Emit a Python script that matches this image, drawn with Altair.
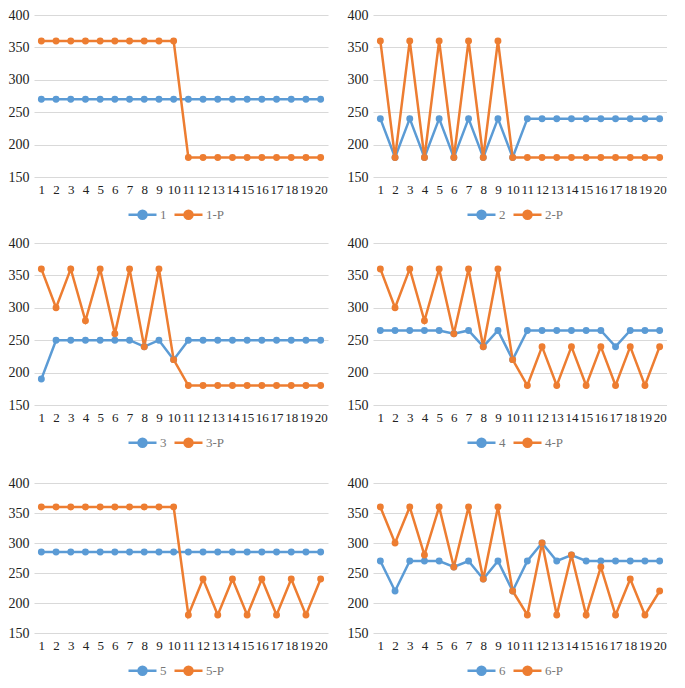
import altair as alt
import pandas as pd

x_vals = list(range(1, 21))

s1 = [270] * 20
s1p = [360] * 10 + [180] * 10

s2 = [240, 180, 240, 180, 240, 180, 240, 180, 240, 180] + [240] * 10
s2p = [360, 180, 360, 180, 360, 180, 360, 180, 360, 180] + [180] * 10

s3 = [190, 250, 250, 250, 250, 250, 250, 240, 250, 220] + [250] * 10
s3p = [360, 300, 360, 280, 360, 260, 360, 240, 360, 220] + [180] * 10

s4 = [265, 265, 265, 265, 265, 260, 265, 240, 265, 220,
      265, 265, 265, 265, 265, 265, 240, 265, 265, 265]
s4p = [360, 300, 360, 280, 360, 260, 360, 240, 360, 220,
       180, 240, 180, 240, 180, 240, 180, 240, 180, 240]

s5 = [285] * 20
s5p = [360] * 10 + [180, 240, 180, 240, 180, 240, 180, 240, 180, 240]

s6 = [270, 220, 270, 270, 270, 260, 270, 240, 270, 220,
      270, 300, 270, 280, 270, 270, 270, 270, 270, 270]
s6p = [360, 300, 360, 280, 360, 260, 360, 240, 360, 220,
       180, 300, 180, 280, 180, 260, 180, 240, 180, 220]

panels = [("1", s1, s1p), ("2", s2, s2p), ("3", s3, s3p),
          ("4", s4, s4p), ("5", s5, s5p), ("6", s6, s6p)]

BLUE = "#5B9BD5"
ORANGE = "#ED7D31"
FONT = "Liberation Serif"
SYM = "M-2,0H2M-0.57,0a0.57,0.57 0 1,0 1.14,0a0.57,0.57 0 1,0 -1.14,0"


def panel(name, a, b, w, h):
    df = pd.DataFrame({
        "x": x_vals + x_vals,
        "v": a + b,
        "s": [name] * 20 + [name + "-P"] * 20,
    })
    return alt.Chart(df).mark_line(
        point=alt.OverlayMarkDef(filled=True, size=48), strokeWidth=2.5
    ).encode(
        x=alt.X("x:O", scale=alt.Scale(type="point", padding=0.5),
                axis=alt.Axis(title=None, labelAngle=0, ticks=False, domain=False,
                              labelFont=FONT, labelFontSize=13, labelColor="#222",
                              labelPadding=6, grid=False)),
        y=alt.Y("v:Q", scale=alt.Scale(domain=[150, 400], nice=False, zero=False),
                axis=alt.Axis(title=None, values=[150, 200, 250, 300, 350, 400],
                              ticks=False, domain=False, labelFont=FONT,
                              labelFontSize=14, labelColor="#222", labelPadding=5,
                              gridColor="#d9d9d9", gridWidth=1)),
        color=alt.Color("s:N",
                        scale=alt.Scale(domain=[name, name + "-P"], range=[BLUE, ORANGE]),
                        legend=alt.Legend(title=None, orient="none", direction="horizontal",
                                          legendX=100, legendY=h + 29,
                                          symbolType=SYM, symbolSize=196,
                                          symbolStrokeWidth=2.5, labelFont=FONT,
                                          labelFontSize=13, labelColor="#777",
                                          labelOffset=9, columnPadding=2)),
    ).properties(width=w, height=h)


heights = [162, 162, 162, 162, 150, 150]
charts = [panel(n, a, b, 294, heights[i]) for i, (n, a, b) in enumerate(panels)]

row1 = alt.hconcat(charts[0], charts[1], spacing=19).resolve_scale(color="independent")
row2 = alt.hconcat(charts[2], charts[3], spacing=19).resolve_scale(color="independent")
row3 = alt.hconcat(charts[4], charts[5], spacing=19).resolve_scale(color="independent")

top = alt.vconcat(row1, row2, spacing=12).resolve_scale(color="independent")
chart = alt.vconcat(top, row3, spacing=24).resolve_scale(
    color="independent"
).configure(padding=0).configure_view(stroke=None)

chart.save("out.html", embed_options={"renderer": "svg", "actions": False})
